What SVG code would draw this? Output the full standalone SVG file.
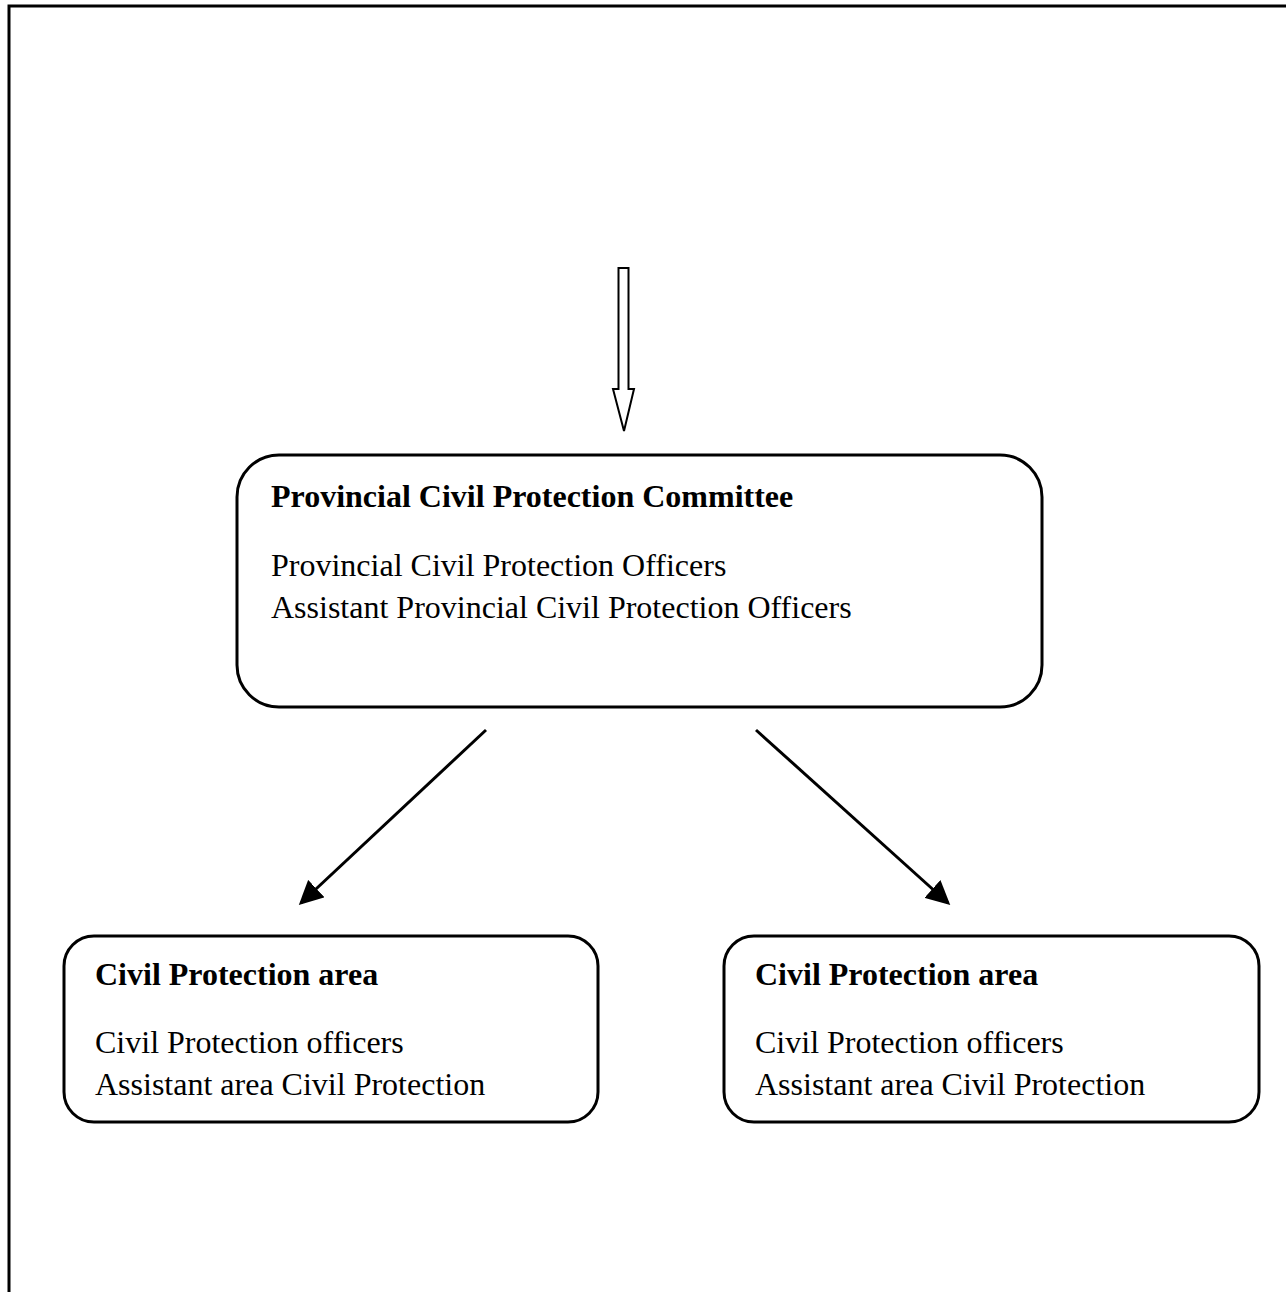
<svg xmlns="http://www.w3.org/2000/svg" width="1286" height="1292" viewBox="0 0 1286 1292">
<style>
.box{fill:#fff;stroke:#000;stroke-width:3}
.t{font-family:"Liberation Serif","Times New Roman",serif;font-size:32px;fill:#000}
.b{font-weight:bold}
.conn{stroke:#000;stroke-width:3;fill:none}
</style>
<defs>
<marker id="ah" markerWidth="8" markerHeight="8" refX="7" refY="4" orient="auto" markerUnits="strokeWidth">
<path d="M0,0 L8,4 L0,8 Z" fill="#000"/>
</marker>
</defs>
<rect width="1286" height="1292" fill="#fff"/>
<path d="M9,1292 V6 H1286" fill="none" stroke="#000" stroke-width="3"/>
<g id="connectors">
<path d="M618.5,268 H628.5 V389 H634 L624,431 L613,389 H618.5 Z" fill="#fff" stroke="#000" stroke-width="2"/>
<line class="conn" x1="486" y1="730" x2="301" y2="903" marker-end="url(#ah)"/>
<line class="conn" x1="756" y1="730" x2="948" y2="903" marker-end="url(#ah)"/>
</g>
<g id="provincial">
<rect class="box" x="237" y="455" width="805" height="252" rx="42"/>
<text class="t b" x="271" y="507">Provincial Civil Protection Committee</text>
<text class="t" x="271" y="576">Provincial Civil Protection Officers</text>
<text class="t" x="271" y="618">Assistant Provincial Civil Protection Officers</text>
</g>
<g id="area-left">
<rect class="box" x="64" y="936" width="534" height="186" rx="30"/>
<text class="t b" x="95" y="985">Civil Protection area</text>
<text class="t" x="95" y="1053">Civil Protection officers</text>
<text class="t" x="95" y="1095">Assistant area Civil Protection</text>
</g>
<g id="area-right">
<rect class="box" x="724" y="936" width="535" height="186" rx="30"/>
<text class="t b" x="755" y="985">Civil Protection area</text>
<text class="t" x="755" y="1053">Civil Protection officers</text>
<text class="t" x="755" y="1095">Assistant area Civil Protection</text>
</g>
</svg>
